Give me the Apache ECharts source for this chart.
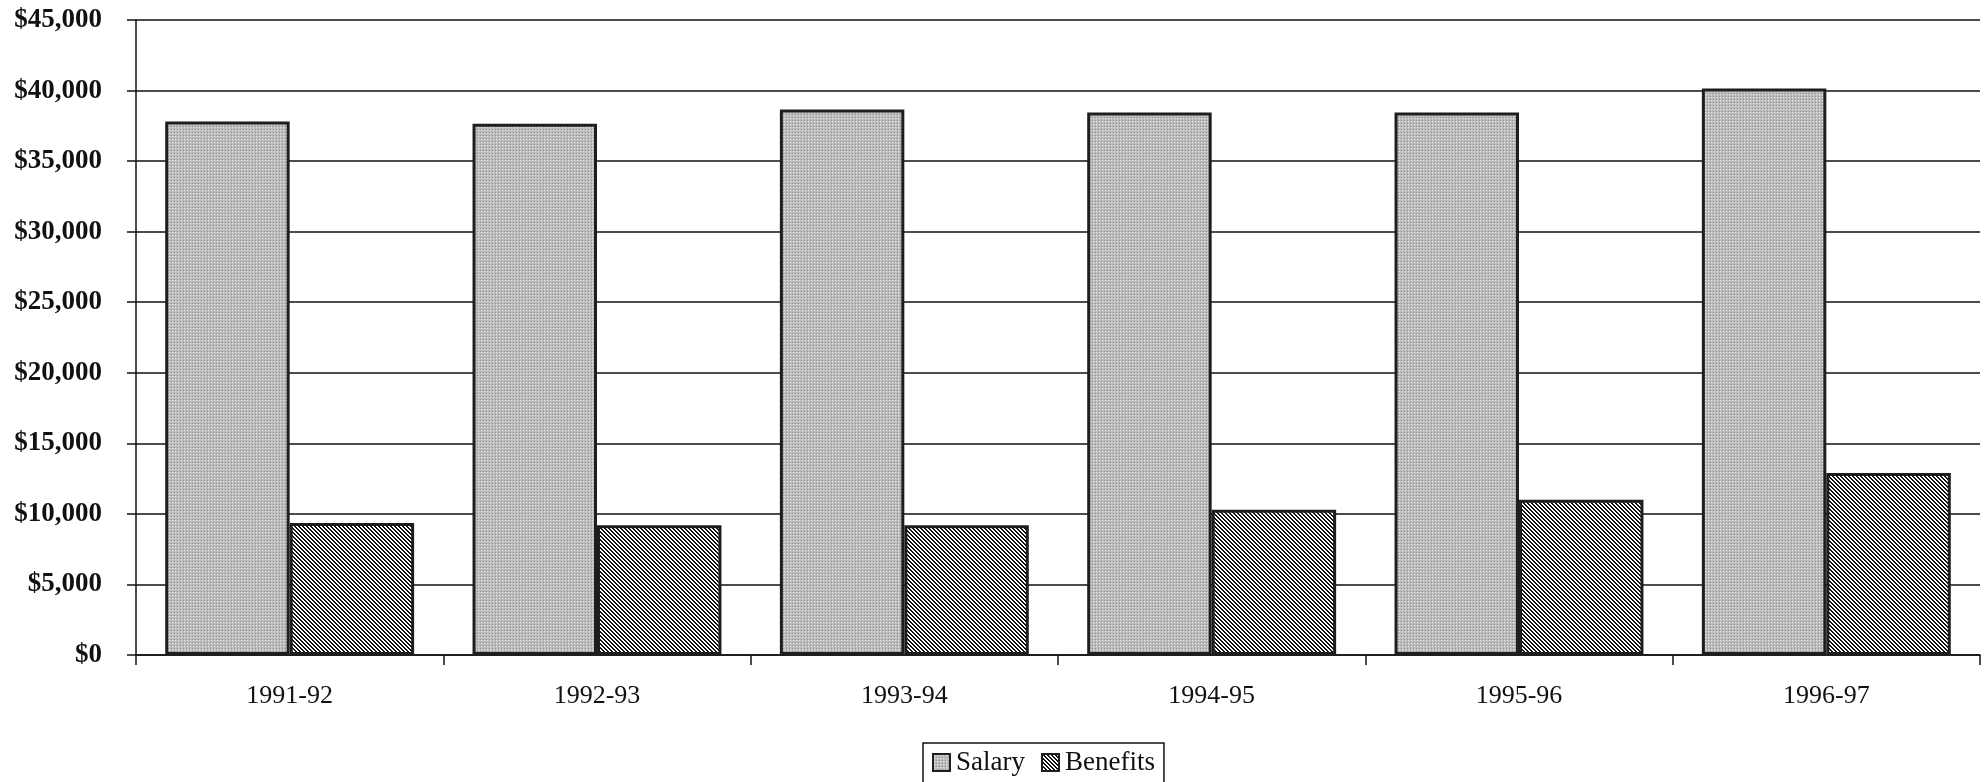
<!DOCTYPE html>
<html>
<head>
<meta charset="utf-8">
<title>Salary and Benefits</title>
<script src="https://cdn.jsdelivr.net/npm/echarts@6/dist/echarts.min.js"></script>
<style>
html,body{margin:0;padding:0;background:#fff;}
#main{width:1986px;height:782px;}
</style>
</head>
<body>
<div id="main"></div>
<script>
//数据
var categories = ['1991-92', '1992-93', '1993-94', '1994-95', '1995-96', '1996-97'];
var salary = [37800, 37650, 38650, 38450, 38450, 40150];
var benefits = [9350, 9200, 9200, 10300, 11000, 12900];
var yMin = 0, yMax = 45000, yStep = 5000;

//点状底纹 (salary)
function dotPattern(){
	var c = document.createElement('canvas');
	c.width = 3; c.height = 3;
	var ctx = c.getContext('2d');
	ctx.fillStyle = '#bdbdbd';
	ctx.fillRect(0, 0, 3, 3);
	ctx.fillStyle = '#e6e6e6';
	ctx.fillRect(1, 1, 1, 1);
	ctx.fillStyle = '#8c8c8c';
	ctx.fillRect(0, 0, 1, 1);
	return c;
}
//斜线底纹 (benefits)
function hatchPattern(){
	var n = 4;
	var c = document.createElement('canvas');
	c.width = n; c.height = n;
	var ctx = c.getContext('2d');
	ctx.fillStyle = '#ffffff';
	ctx.fillRect(0, 0, n, n);
	ctx.fillStyle = '#141414';
	for (var x = 0; x < n; x++) {
		for (var y = 0; y < n; y++) {
			var d = ((x - y) % n + n) % n;
			if (d == 0 || d == 1) ctx.fillRect(x, y, 1, 1);
		}
	}
	return c;
}

function money(v){
	return '$' + String(v).replace(/\B(?=(\d{3})+(?!\d))/g, ',');
}

var font = '"Liberation Serif", "Times New Roman", serif';
var chart = echarts.init(document.getElementById('main'), null, {renderer: 'canvas'});

var option = {
	backgroundColor: '#ffffff',
	animation: false,
	grid: {left: 136, right: 6, top: 20, bottom: 127, containLabel: false},
	legend: {
		data: ['Salary', 'Benefits'],
		icon: 'rect',
		left: 923,
		top: 743,
		padding: [6, 9, 8, 9],
		itemWidth: 17,
		itemHeight: 17,
		itemGap: 16,
		borderColor: '#111',
		borderWidth: 1.5,
		borderRadius: 0,
		textStyle: {fontFamily: font, fontSize: 27, color: '#111', padding: [0, 0, 0, 1]}
	},
	xAxis: {
		type: 'category',
		data: categories,
		boundaryGap: true,
		axisLine: {lineStyle: {color: '#111', width: 1.5}},
		axisTick: {show: true, length: 10, inside: false, lineStyle: {color: '#111', width: 1.5}},
		axisLabel: {fontFamily: font, fontSize: 26, color: '#111', margin: 28},
		splitLine: {show: false}
	},
	yAxis: {
		type: 'value',
		min: yMin,
		max: yMax,
		interval: yStep,
		axisLine: {show: true, lineStyle: {color: '#111', width: 1.5}},
		axisTick: {show: true, length: 9, lineStyle: {color: '#111', width: 1.5}},
		axisLabel: {
			fontFamily: font, fontSize: 27, fontWeight: 'bold', color: '#111', margin: 34,
			formatter: function(v){ return money(v); }
		},
		splitLine: {show: true, lineStyle: {color: '#111', width: 1.5}}
	},
	series: [
		{
			name: 'Salary',
			type: 'bar',
			data: salary,
			barGap: '0%',
			barCategoryGap: '19%',
			itemStyle: {
				color: {image: dotPattern(), repeat: 'repeat'},
				borderColor: '#1e1e1e',
				borderWidth: 3
			}
		},
		{
			name: 'Benefits',
			type: 'bar',
			data: benefits,
			barGap: '0%',
			barCategoryGap: '19%',
			itemStyle: {
				color: {image: hatchPattern(), repeat: 'repeat'},
				borderColor: '#1e1e1e',
				borderWidth: 3
			}
		}
	]
};
chart.setOption(option);
</script>
</body>
</html>
